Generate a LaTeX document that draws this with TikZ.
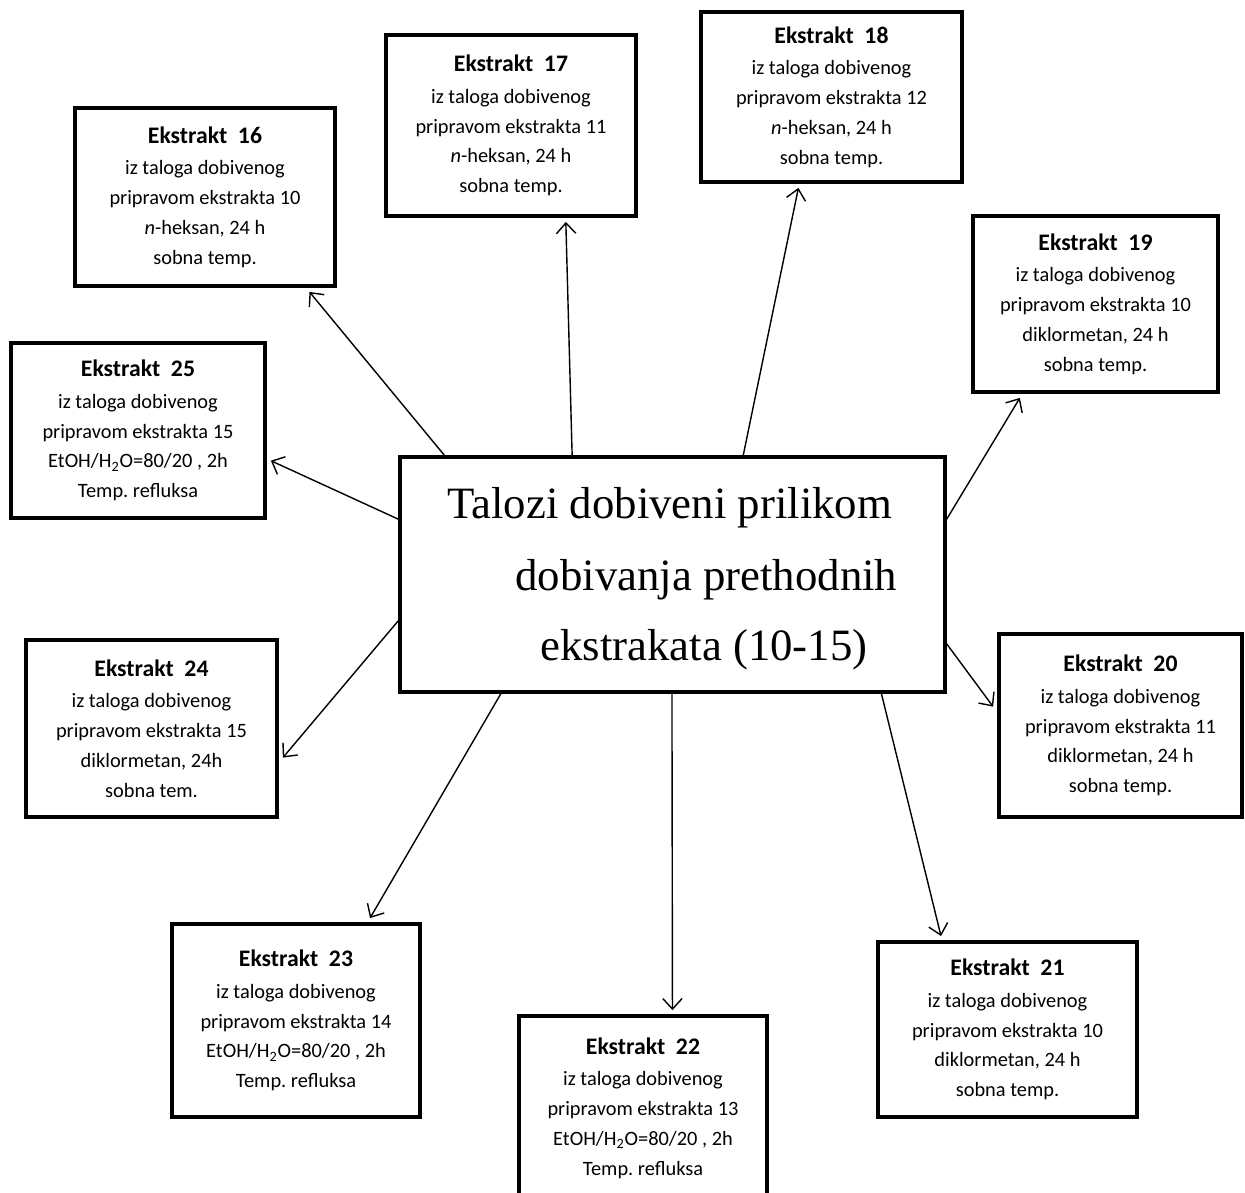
\documentclass[tikz,border=0pt]{standalone}
\usepackage{fontspec}
\setmainfont{Carlito}
\newfontfamily\cfont{Liberation Serif}
\usetikzlibrary{arrows.meta,calc}
\frenchspacing
\tikzset{
  ebox/.style={draw, line width=2.2pt, fill=white, align=center,
    font=\fontsize{11.6}{17}\selectfont\frenchspacing, inner sep=0pt},
  cbox/.style={draw, line width=2pt, fill=white, inner sep=0pt},
  ctext/.style={anchor=base west, inner sep=0pt, font=\cfont\fontsize{25.5}{30}\selectfont},
  conn/.style={line width=0.8pt, -{Straight Barb[length=6pt,width=11pt]}},
}
\newcommand{\ttl}[1]{{\fontsize{13.5}{17}\selectfont\bfseries Ekstrakt\ \ #1}\\[1pt]}
\begin{document}
\begin{tikzpicture}[x=0.02cm,y=-0.02cm]
\clip (0,0) rectangle (1245,1193);
\fill[white] (0,0) rectangle (1245,1193);

\node[cbox, minimum width=10.9cm, minimum height=4.7cm] (c) at (672.5,574.5) {};
\node[ctext] (c1) at (447,518) {Talozi dobiveni prilikom};
\node[ctext] (c2) at (515,590) {dobivanja prethodnih};
\node[ctext] (c3) at (540,660) {ekstrakata (10-15)};

\node[ebox, minimum width=5.2cm, minimum height=3.56cm] (e16) at (205,197)
  {\ttl{16}iz taloga dobivenog\\pripravom ekstrakta 10\\\textit{n}-heksan, 24 h\\sobna temp.};
\node[ebox, minimum width=5.0cm, minimum height=3.62cm] (e17) at (511,125.5)
  {\ttl{17}iz taloga dobivenog\\pripravom ekstrakta 11\\\textit{n}-heksan, 24 h\\sobna temp.};
\node[ebox, minimum width=5.22cm, minimum height=3.4cm] (e18) at (831.5,97)
  {\ttl{18}iz taloga dobivenog\\pripravom ekstrakta 12\\\textit{n}-heksan, 24 h\\sobna temp.};
\node[ebox, minimum width=4.9cm, minimum height=3.52cm] (e19) at (1095.5,304)
  {\ttl{19}iz taloga dobivenog\\pripravom ekstrakta 10\\diklormetan, 24 h\\sobna temp.};
\node[ebox, minimum width=5.08cm, minimum height=3.5cm] (e25) at (138,430.5)
  {\ttl{25}iz taloga dobivenog\\pripravom ekstrakta 15\\EtOH/H\textsubscript{2}O=80/20 , 2h\\Temp. refluksa};
\node[ebox, minimum width=5.02cm, minimum height=3.54cm] (e24) at (151.5,728.5)
  {\ttl{24}iz taloga dobivenog\\pripravom ekstrakta 15\\diklormetan, 24h\\sobna tem.};
\node[ebox, minimum width=4.86cm, minimum height=3.66cm] (e20) at (1120.5,725.5)
  {\ttl{20}iz taloga dobivenog\\pripravom ekstrakta 11\\diklormetan, 24 h\\sobna temp.};
\node[ebox, minimum width=4.96cm, minimum height=3.86cm] (e23) at (296,1020.5)
  {\ttl{23}iz taloga dobivenog\\pripravom ekstrakta 14\\EtOH/H\textsubscript{2}O=80/20 , 2h\\Temp. refluksa};
\node[ebox, minimum width=4.96cm, minimum height=3.68cm] (e22) at (643,1108)
  {\ttl{22}iz taloga dobivenog\\pripravom ekstrakta 13\\EtOH/H\textsubscript{2}O=80/20 , 2h\\Temp. refluksa};
\node[ebox, minimum width=5.18cm, minimum height=3.5cm] (e21) at (1007.5,1029.5)
  {\ttl{21}iz taloga dobivenog\\pripravom ekstrakta 10\\diklormetan, 24 h\\sobna temp.};

\draw[conn] ($(c.north west)!0.084!(c.north east)$) -- ($(e16.south west)!0.896!(e16.south east)+(0,4)$);
\draw[conn] ($(c.north west)!0.317!(c.north east)$) -- ($(e17.south west)!0.716!(e17.south east)+(0,4)$);
\draw[conn] ($(c.north west)!0.629!(c.north east)$) -- ($(e18.south west)!0.375!(e18.south east)+(0,4)$);
\draw[conn] ($(c.north east)!0.268!(c.south east)$) -- ($(e19.south west)!0.196!(e19.south east)+(0,4)$);
\draw[conn] ($(c.north west)!0.268!(c.south west)$) -- ($(e25.north east)!0.669!(e25.south east)+(4,0)$);
\draw[conn] ($(c.north west)!0.694!(c.south west)$) -- ($(e24.north east)!0.661!(e24.south east)+(4,0)$);
\draw[conn] ($(c.north east)!0.791!(c.south east)$) -- ($(e20.north west)!0.399!(e20.south west)+(-4,0)$);
\draw[conn] ($(c.south west)!0.187!(c.south east)$) -- ($(e23.north west)!0.794!(e23.north east)+(0,-4)$);
\draw[conn] ($(c.south west)!0.499!(c.south east)$) -- ($(e22.north west)!0.617!(e22.north east)+(0,-4)$);
\draw[conn] ($(c.south west)!0.881!(c.south east)$) -- ($(e21.north west)!0.247!(e21.north east)+(0,-4)$);
\end{tikzpicture}
\end{document}
